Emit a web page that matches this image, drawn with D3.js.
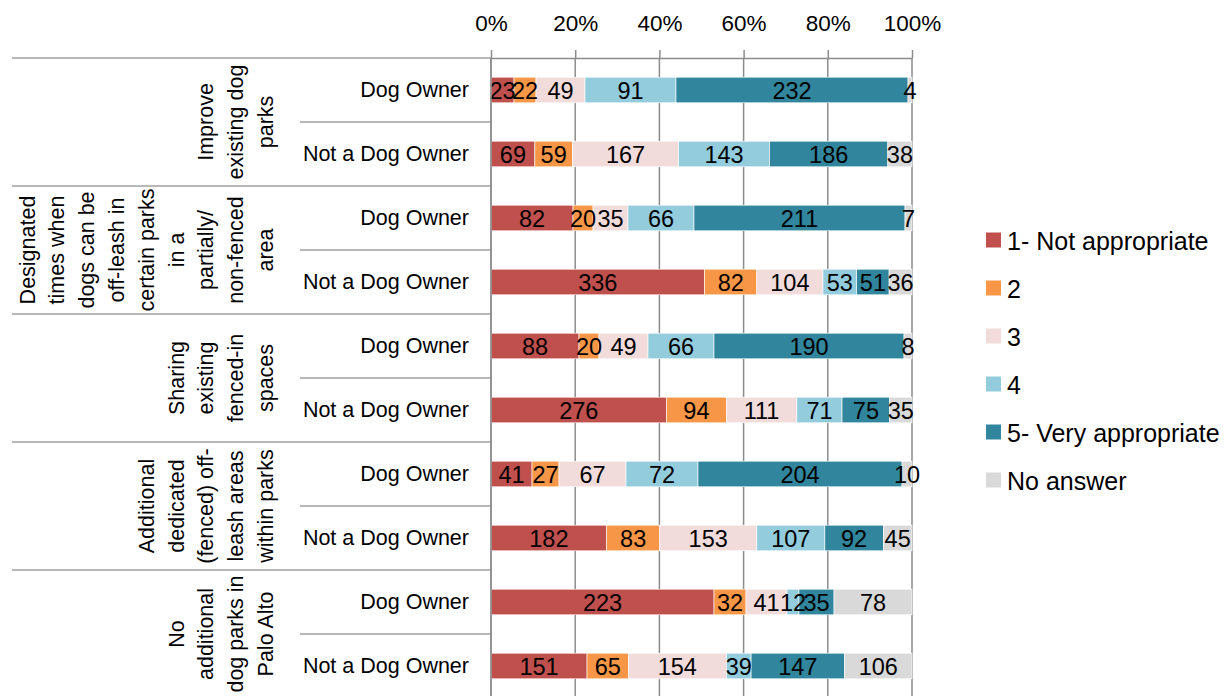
<!DOCTYPE html>
<html>
<head>
<meta charset="utf-8">
<script src="https://cdn.jsdelivr.net/npm/d3@7"></script>
<style>
  body { margin: 0; background: #fff; }
  text { font-family: "Liberation Sans", Arial, sans-serif; font-size: 21.5px; fill: #000; }
  .val { font-size: 23.5px; }
  .leg { font-size: 25px; }
</style>
</head>
<body>
<script>
(function() {

    // Groups (multi-line, rotated) and the two rows in each
    var groups = [
        ['Improve', 'existing dog', 'parks'],
        ['Designated', 'times when', 'dogs can be', 'off-leash in', 'certain parks', 'in a', 'partially/', 'non-fenced', 'area'],
        ['Sharing', 'existing', 'fenced-in', 'spaces'],
        ['Additional', 'dedicated', '(fenced) off-', 'leash areas', 'within parks'],
        ['No', 'additional', 'dog parks in', 'Palo Alto']
    ];
    var owners = ['Dog Owner', 'Not a Dog Owner'];

    var seriesNames = ['1- Not appropriate', '2', '3', '4', '5- Very appropriate', 'No answer'];
    var colors = ['#c0504d', '#f79646', '#f2dcdb', '#93cddd', '#31859c', '#d9d9d9'];

    // Counts per row (group x owner, top to bottom)
    var notAppropriate  = [23, 69, 82, 336, 88, 276, 41, 182, 223, 151];
    var two             = [22, 59, 20, 82, 20, 94, 27, 83, 32, 65];
    var three           = [49, 167, 35, 104, 49, 111, 67, 153, 41, 154];
    var four            = [91, 143, 66, 53, 66, 71, 72, 107, 12, 39];
    var veryAppropriate = [232, 186, 211, 51, 190, 75, 204, 92, 35, 147];
    var noAnswer        = [4, 38, 7, 36, 8, 35, 10, 45, 78, 106];

    var tickValues = [0, 0.2, 0.4, 0.6, 0.8, 1];

    var allSeries = [notAppropriate, two, three, four, veryAppropriate, noAnswer];

    // Build table of rows
    var rows = [];
    for (var i = 0; i < notAppropriate.length; i++) {
        var r = {row: i};
        seriesNames.forEach(function(s, j) { r[s] = allSeries[j][i]; });
        rows.push(r);
    }

    var width = 1227, height = 696;
    var top = 58, bottom = 698, left = 491, right = 912;

    var svg = d3.select('body').append('svg')
        .attr('width', width)
        .attr('height', height);

    var x = d3.scaleLinear().domain([0, 1]).range([left, right]);
    var y = d3.scaleBand()
        .domain(d3.range(rows.length))
        .range([top, bottom])
        .paddingInner(0.6)
        .paddingOuter(0.3);

    var stacked = d3.stack()
        .keys(seriesNames)
        .offset(d3.stackOffsetExpand)(rows);

    // Gridlines
    svg.append('g').selectAll('line')
        .data(tickValues)
        .enter().append('line')
        .attr('x1', function(d) { return x(d); })
        .attr('x2', function(d) { return x(d); })
        .attr('y1', top)
        .attr('y2', bottom)
        .attr('stroke', '#8c8c8c')
        .attr('stroke-width', 1.5);

    // Row separators on the category side
    var step = y.step();
    svg.append('g').selectAll('line')
        .data(d3.range(rows.length + 1))
        .enter().append('line')
        .attr('x1', function(d) { return d % 2 === 0 ? 12 : 300; })
        .attr('x2', left)
        .attr('y1', function(d) { return top + d * step; })
        .attr('y2', function(d) { return top + d * step; })
        .attr('stroke', '#a0a0a0')
        .attr('stroke-width', 1.5);

    // Bars
    var layer = svg.append('g').selectAll('g')
        .data(stacked)
        .enter().append('g')
        .attr('fill', function(d, i) { return colors[i]; });

    layer.selectAll('rect')
        .data(function(d) { return d; })
        .enter().append('rect')
        .attr('x', function(d) { return x(d[0]); })
        .attr('y', function(d) { return y(d.data.row); })
        .attr('width', function(d) { return x(d[1]) - x(d[0]); })
        .attr('height', y.bandwidth())
        .attr('stroke', '#fff')
        .attr('stroke-width', 0.6);

    // Value labels
    stacked.forEach(function(s) {
        svg.append('g').selectAll('text')
            .data(s)
            .enter().append('text')
            .attr('class', 'val')
            .attr('x', function(d) { return (x(d[0]) + x(d[1])) / 2; })
            .attr('y', function(d) { return y(d.data.row) + y.bandwidth() / 2 + 1; })
            .attr('text-anchor', 'middle')
            .attr('dominant-baseline', 'central')
            .text(function(d) { return d.data[s.key]; });
    });

    // Top axis
    var axis = svg.append('g')
        .attr('transform', 'translate(0,' + top + ')')
        .call(d3.axisTop(x).tickValues(tickValues)
            .tickFormat(d3.format('.0%'))
            .tickSize(8).tickSizeOuter(0).tickPadding(19));
    axis.select('.domain').attr('stroke', '#8c8c8c').attr('stroke-width', 1.5);
    axis.selectAll('.tick line').attr('stroke', '#8c8c8c').attr('stroke-width', 1.5);
    axis.selectAll('.tick text')
        .style('font-family', '"Liberation Sans", Arial, sans-serif')
        .style('font-size', '22.5px')
        .attr('fill', '#000');

    // Vertical axis line
    svg.append('line')
        .attr('x1', left).attr('x2', left)
        .attr('y1', top).attr('y2', bottom)
        .attr('stroke', '#8c8c8c')
        .attr('stroke-width', 1.5);

    // Owner labels
    svg.append('g').selectAll('text')
        .data(rows)
        .enter().append('text')
        .attr('x', 469)
        .attr('y', function(d) { return y(d.row) + y.bandwidth() / 2; })
        .attr('text-anchor', 'end')
        .attr('dominant-baseline', 'central')
        .text(function(d) { return owners[d.row % 2]; });

    // Group labels, rotated, last line sits at the right edge
    groups.forEach(function(lines, g) {
        var cy = top + (g * 2 + 1) * step;
        var n = lines.length;
        lines.forEach(function(t, i) {
            var cx = 266 - (n - 1 - i) * 29.8;
            svg.append('text')
                .attr('transform', 'translate(' + cx + ',' + cy + ') rotate(-90)')
                .attr('text-anchor', 'middle')
                .attr('dominant-baseline', 'central')
                .text(t);
        });
    });

    // Legend
    var legend = svg.append('g').selectAll('g')
        .data(seriesNames)
        .enter().append('g')
        .attr('transform', function(d, i) { return 'translate(986,' + (240 + i * 48) + ')'; });

    legend.append('rect')
        .attr('x', 0).attr('y', -7.5)
        .attr('width', 15).attr('height', 15)
        .attr('fill', function(d, i) { return colors[i]; });

    legend.append('text')
        .attr('class', 'leg')
        .attr('x', 21)
        .attr('y', 1)
        .attr('dominant-baseline', 'central')
        .text(function(d) { return d; });

})();
</script>
</body>
</html>
